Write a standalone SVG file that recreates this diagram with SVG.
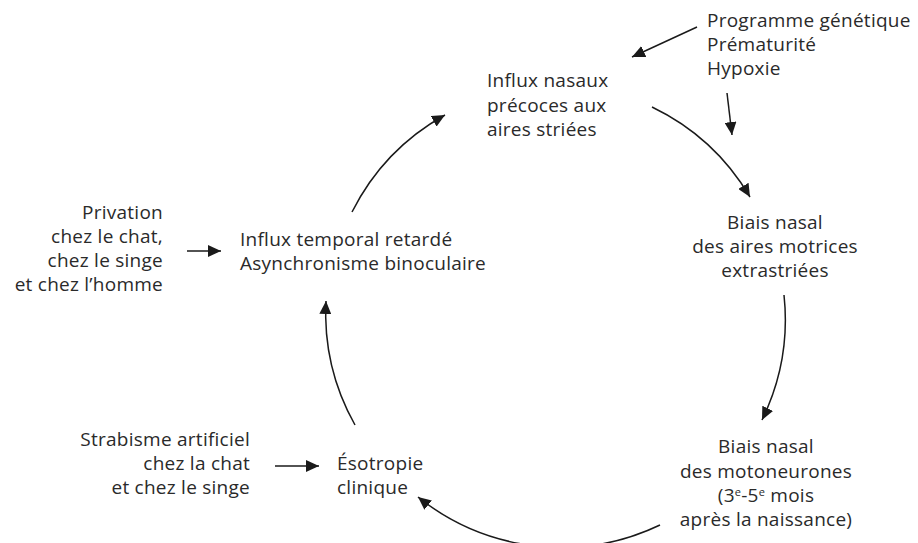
<svg xmlns="http://www.w3.org/2000/svg" width="918" height="543" viewBox="0 0 918 543">
<defs>
<marker id="ah" markerUnits="userSpaceOnUse" markerWidth="14" markerHeight="12" refX="13" refY="6" orient="auto">
<path d="M0,0 L13,6 L0,12 z" fill="#1a1a1a"/>
</marker>
<style>
text{font-family:"Open Sans","Noto Sans","Liberation Sans",sans-serif;font-size:19px;letter-spacing:0.25px;fill:#2a2a2a}
.m{text-anchor:middle}
.e{text-anchor:end}
.c{fill:none;stroke:#1a1a1a;stroke-width:1.5;marker-end:url(#ah)}
.sup{font-size:11px}
</style>
</defs>
<g id="connectors">
<path class="c" d="M352,212 A229,229 0 0 1 445,115"/>
<path class="c" d="M652,107 A229,229 0 0 1 750,197"/>
<path class="c" d="M784,295 A229,229 0 0 1 762,420"/>
<path class="c" d="M660,525 A229,229 0 0 1 418,497"/>
<path class="c" d="M355,425 A229,229 0 0 1 326,301"/>
<path class="c" d="M697,27 L632,57"/>
<path class="c" d="M727,93 L732,135"/>
<path class="c" d="M187,251 L221,251"/>
<path class="c" d="M275,466 L319,466"/>
</g>
<g id="causes-top">
<text x="707" y="27">Programme génétique</text>
<text x="707" y="51">Prématurité</text>
<text x="707" y="75">Hypoxie</text>
</g>
<g id="influx-nasaux">
<text x="487" y="87">Influx nasaux</text>
<text x="487" y="112">précoces aux</text>
<text x="487" y="136">aires striées</text>
</g>
<g id="biais-aires">
<text class="m" x="775" y="229">Biais nasal</text>
<text class="m" x="775" y="253">des aires motrices</text>
<text class="m" x="775" y="277">extrastriées</text>
</g>
<g id="biais-moto">
<text class="m" x="766" y="453">Biais nasal</text>
<text class="m" x="766" y="478">des motoneurones</text>
<text class="m" x="766" y="502">(3<tspan class="sup" dy="-6">e</tspan><tspan dy="6">-5</tspan><tspan class="sup" dy="-6">e</tspan><tspan dy="6"> mois</tspan></text>
<text class="m" x="766" y="526">après la naissance)</text>
</g>
<g id="esotropie">
<text x="337" y="470">Ésotropie</text>
<text x="337" y="494">clinique</text>
</g>
<g id="strabisme">
<text class="e" x="250" y="446">Strabisme artificiel</text>
<text class="e" x="250" y="470">chez la chat</text>
<text class="e" x="250" y="494">et chez le singe</text>
</g>
<g id="influx-temporal">
<text x="240" y="246">Influx temporal retardé</text>
<text x="240" y="270">Asynchronisme binoculaire</text>
</g>
<g id="privation">
<text class="e" x="163" y="219">Privation</text>
<text class="e" x="163" y="243">chez le chat,</text>
<text class="e" x="163" y="267">chez le singe</text>
<text class="e" x="163" y="291">et chez l’homme</text>
</g>
</svg>
